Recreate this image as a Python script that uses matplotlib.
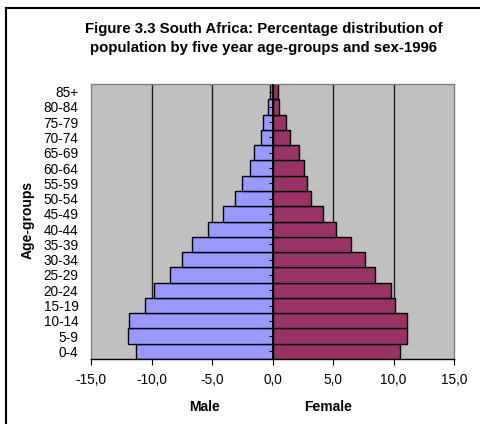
import matplotlib
matplotlib.use("Agg")
import matplotlib.pyplot as plt
from matplotlib.lines import Line2D
import numpy as np

age_groups = ["0-4", "5-9", "10-14", "15-19", "20-24", "25-29", "30-34", "35-39",
              "40-44", "45-49", "50-54", "55-59", "60-64", "65-69", "70-74",
              "75-79", "80-84", "85+"]
male = [11.30, 11.96, 11.84, 10.55, 9.81, 8.49, 7.52, 6.64, 5.31, 4.13,
        3.06, 2.51, 1.88, 1.55, 0.99, 0.77, 0.36, 0.22]
female = [10.52, 11.10, 11.10, 10.11, 9.78, 8.49, 7.63, 6.50, 5.23, 4.16,
          3.17, 2.83, 2.59, 2.17, 1.43, 1.10, 0.52, 0.44]
x_ticks = [-15, -10, -5, 0, 5, 10, 15]
x_tick_labels = ["-15,0", "-10,0", "-5,0", "0,0", "5,0", "10,0", "15,0"]

plt.rcParams['font.family'] = ['Liberation Sans', 'DejaVu Sans']

W, H = 481, 424
fig = plt.figure(figsize=(W / 100, H / 100), dpi=100)
ax = fig.add_axes([91 / W, 1 - 359 / H, (454 - 91) / W, (359 - 84) / H])
ax.set_facecolor("#C0C0C0")

y = np.arange(len(age_groups))
ax.set_xlim(-15, 15)
ax.set_ylim(-0.5, len(age_groups) - 0.5)

for gx in [-10, -5, 5, 10]:
    ax.axvline(gx, color="#202020", lw=1.0, zorder=1)

ax.barh(y, [-m for m in male], height=1.0, color="#9999FF",
        edgecolor="black", linewidth=1.0, zorder=2)
ax.barh(y, female, height=1.0, color="#993366",
        edgecolor="black", linewidth=1.0, zorder=2)

ax.axvline(0, color="black", lw=1.3, zorder=3)
ax.plot(np.zeros(len(age_groups)), y, linestyle="none", marker=0,
        markersize=3, color="black", mew=0.8, zorder=3, clip_on=False)

for side in ["top", "left", "right"]:
    ax.spines[side].set_color("#808080")
    ax.spines[side].set_linewidth(1.0)
ax.spines["bottom"].set_color("black")
ax.spines["bottom"].set_linewidth(1.0)

ax.set_xticks(x_ticks)
ax.set_xticklabels(x_tick_labels, fontsize=9.8)
ax.tick_params(axis="x", direction="out", length=4, width=0.8, pad=6)
ax.set_yticks(y)
ax.set_yticklabels(age_groups, fontsize=9.8)
ax.tick_params(axis="y", length=0, pad=9)

fig.text(264 / W, 1 - 29 / H,
         "Figure 3.3 South Africa: Percentage distribution of",
         ha="center", va="center", fontsize=10.8, fontweight="bold")
fig.text(264 / W, 1 - 48 / H,
         "population by five year age-groups and sex-1996",
         ha="center", va="center", fontsize=10.8, fontweight="bold")

fig.text(205 / W, 1 - 407 / H, "Male", ha="center", va="center",
         fontsize=10, fontweight="bold")
fig.text(328 / W, 1 - 407 / H, "Female", ha="center", va="center",
         fontsize=10, fontweight="bold")
fig.text(28 / W, 1 - 220 / H, "Age-groups", ha="center", va="center",
         rotation=90, fontsize=10, fontweight="bold")

fig.add_artist(Line2D([6 / W, 6 / W], [0, 1 - 8 / H], color="black",
                      lw=1.5, transform=fig.transFigure))
fig.add_artist(Line2D([6 / W, 1], [1 - 8 / H, 1 - 8 / H], color="black",
                      lw=1.5, transform=fig.transFigure))

fig.savefig("out.png", dpi=100)
